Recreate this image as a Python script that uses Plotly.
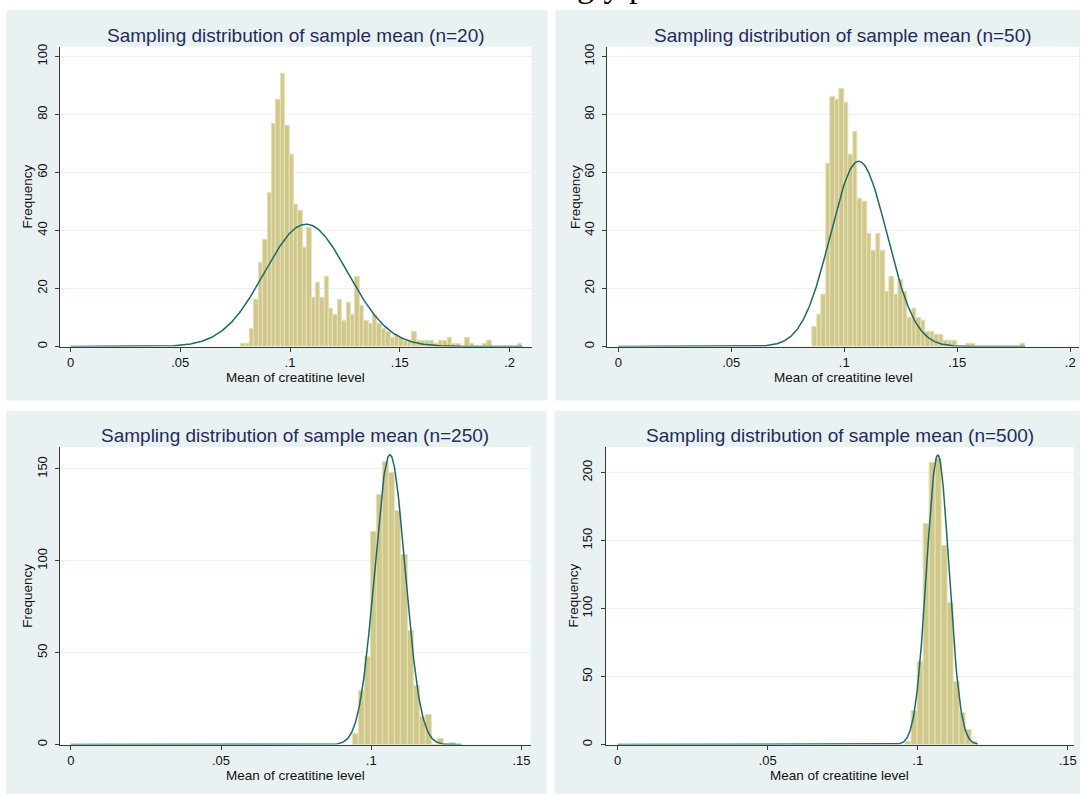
import numpy as np
import plotly.graph_objects as go

W, H = 1083, 796

# ---------------- data ----------------
n_samples = 1000
bin_width = 0.002

titles = [
    "Sampling distribution of sample mean (n=20)",
    "Sampling distribution of sample mean (n=50)",
    "Sampling distribution of sample mean (n=250)",
    "Sampling distribution of sample mean (n=500)",
]
x_title = "Mean of creatitine level"
y_title = "Frequency"
top_text = "ngly p"

start_n20 = 0.0777
counts_n20 = [1, 1, 6, 16, 29, 37, 53, 77, 85, 94,
              76, 66, 49, 47, 34, 41, 17, 22, 17, 24,
              13, 11, 16, 9, 15, 11, 24, 14, 9, 8,
              11, 8, 6, 5, 3, 4, 3, 2, 2, 5,
              2, 2, 2, 2, 1, 2, 2, 3, 1, 1,
              0, 3, 1, 0, 0, 1, 2, 0, 0, 0,
              0, 0, 0, 1]
mean_n20, sd_n20 = 0.1073, 0.0189

start_n50 = 0.086
counts_n50 = [7, 11, 18, 63, 86, 85, 89, 84, 66, 74,
              51, 50, 39, 33, 39, 33, 19, 24, 18, 23,
              19, 10, 13, 10, 9, 5, 5, 4, 4, 2,
              2, 2, 0, 0, 1, 1, 0, 0, 0, 0,
              0, 0, 0, 0, 0, 0, 1]
mean_n50, sd_n50 = 0.1064, 0.01249

start_n250 = 0.094
counts_n250 = [6, 29, 48, 116, 136, 154, 148, 127, 103, 62,
               32, 15, 16, 0, 3, 0, 1]
mean_n250, sd_n250 = 0.1062, 0.00506

start_n500 = 0.096
counts_n500 = [2, 25, 61, 162, 207, 210, 146, 104, 46, 23, 11, 2]
mean_n500, sd_n500 = 0.1067, 0.00375

xtick_vals_a = [0, 0.05, 0.1, 0.15, 0.2]
xtick_text_a = ["0", ".05", ".1", ".15", ".2"]
xtick_vals_b = [0, 0.05, 0.1, 0.15]
xtick_text_b = ["0", ".05", ".1", ".15"]
ytick_a = [0, 20, 40, 60, 80, 100]
ytick_c = [0, 50, 100, 150]
ytick_d = [0, 50, 100, 150, 200]

# ---------------- styling / layout ----------------
FONT = "Liberation Sans, Arial, Helvetica, sans-serif"
BAR_FILL = "#D0C78B"
BAR_EDGE = "#E6E1B8"
CURVE = "#1C6B66"
PANEL_BG = "#EAF1F3"
GRID = "#E9F0F2"
AXIS = "#3a3a3a"
TITLE_COL = "#1F2C5A"

panels = [
    dict(counts=counts_n20, start=start_n20, mean=mean_n20, sd=sd_n20,
         xr=[-0.00486, 0.2100], yr=[0, 103.4], xv=xtick_vals_a, xt=xtick_text_a, yv=ytick_a,
         px=(60, 533, 44, 345.7), box=(6, 549, 7, 400), curve_end=0.206),
    dict(counts=counts_n50, start=start_n50, mean=mean_n50, sd=sd_n50,
         xr=[-0.00486, 0.2039], yr=[0, 103.4], xv=xtick_vals_a, xt=xtick_text_a, yv=ytick_a,
         px=(609, 1082, 44, 345.7), box=(557, 1083, 7, 400), curve_end=0.18),
    dict(counts=counts_n250, start=start_n250, mean=mean_n250, sd=sd_n250,
         xr=[-0.00365, 0.1530], yr=[0, 162], xv=xtick_vals_b, xt=xtick_text_b, yv=ytick_c,
         px=(60, 532, 446.7, 746.3), box=(6, 548, 410, 796), curve_end=0.13),
    dict(counts=counts_n500, start=start_n500, mean=mean_n500, sd=sd_n500,
         xr=[-0.0040, 0.1520], yr=[0, 218.8], xv=xtick_vals_b, xt=xtick_text_b, yv=ytick_d,
         px=(607.3, 1076.7, 446.7, 746.3), box=(556, 1083, 410, 796), curve_end=0.12),
]

fig = go.Figure()
shapes = []
annotations = []
layout_axes = {}


def fx(px):
    return px / W


def fy(py):
    return 1 - py / H


for i, p in enumerate(panels):
    k = "" if i == 0 else str(i + 1)
    xa, ya = "x" + k, "y" + k
    counts = np.array(p["counts"], dtype=float)
    centers = p["start"] + bin_width * (np.arange(len(counts)) + 0.5)
    fig.add_trace(go.Bar(
        x=centers, y=counts, width=bin_width,
        marker=dict(color=BAR_FILL, line=dict(color=BAR_EDGE, width=1)),
        xaxis=xa, yaxis=ya, showlegend=False, hoverinfo="skip"))
    xs = np.linspace(0, p["curve_end"], 600)
    dens = n_samples * bin_width * np.exp(-0.5 * ((xs - p["mean"]) / p["sd"]) ** 2) / (p["sd"] * np.sqrt(2 * np.pi))
    fig.add_trace(go.Scatter(
        x=xs, y=dens, mode="lines", line=dict(color=CURVE, width=1.5),
        xaxis=xa, yaxis=ya, showlegend=False, hoverinfo="skip"))

    x0, x1, y0, y1 = p["px"]
    bx0, bx1, by0, by1 = p["box"]
    shapes.append(dict(type="rect", xref="paper", yref="paper", layer="below",
                       x0=fx(bx0), x1=fx(bx1), y0=fy(by1), y1=fy(by0),
                       fillcolor=PANEL_BG, line=dict(width=0)))
    layout_axes["xaxis" + k] = dict(
        domain=[fx(x0), fx(x1)], range=p["xr"], anchor=ya,
        tickvals=p["xv"], ticktext=p["xt"], ticks="outside", ticklen=4,
        tickcolor=AXIS, showline=True, linecolor=AXIS, linewidth=1,
        showgrid=False, zeroline=False, ticklabelstandoff=0,
        tickfont=dict(family=FONT, size=13, color="#111"))
    layout_axes["yaxis" + k] = dict(
        domain=[fy(y1), fy(y0)], range=p["yr"], anchor=xa,
        tickvals=p["yv"], tickangle=-90, ticks="outside", ticklen=4,
        tickcolor=AXIS, showline=True, linecolor=AXIS, linewidth=1,
        showgrid=True, gridcolor=GRID, gridwidth=1, zeroline=False,
        ticklabelstandoff=3,
        tickfont=dict(family=FONT, size=13, color="#111"))
    cx = (x0 + x1) / 2
    annotations.append(dict(text=titles[i], xref="paper", yref="paper",
                            x=fx(cx), y=fy(y0 - 11), xanchor="center", yanchor="middle",
                            showarrow=False, font=dict(family=FONT, size=19, color=TITLE_COL)))
    annotations.append(dict(text=x_title, xref="paper", yref="paper",
                            x=fx(cx), y=fy(y1 + 31), xanchor="center", yanchor="middle",
                            showarrow=False, font=dict(family=FONT, size=13.5, color="#111")))
    annotations.append(dict(text=y_title, xref="paper", yref="paper",
                            x=fx(x0 - 32), y=fy((y0 + y1) / 2), xanchor="center", yanchor="middle",
                            textangle=-90, showarrow=False,
                            font=dict(family=FONT, size=13.5, color="#111")))

# white plot regions (drawn above the panel backgrounds)
for p in panels:
    x0, x1, y0, y1 = p["px"]
    shapes.append(dict(type="rect", xref="paper", yref="paper", layer="below",
                       x0=fx(x0), x1=fx(x1), y0=fy(y1), y1=fy(y0),
                       fillcolor="white", line=dict(width=0)))

# line of text above the figure, cut off by the top edge as in the reference
annotations.append(dict(text=top_text, xref="paper", yref="paper",
                        x=fx(560), y=fy(3.5), xanchor="left", yanchor="bottom",
                        showarrow=False,
                        font=dict(family="Liberation Serif, Times New Roman, serif", size=34, color="#000")))

fig.update_layout(
    width=W, height=H, margin=dict(l=0, r=0, t=0, b=0),
    paper_bgcolor="white", plot_bgcolor="rgba(0,0,0,0)",
    bargap=0, barmode="overlay",
    shapes=shapes, annotations=annotations,
    **layout_axes)

fig.write_html("out.html")
